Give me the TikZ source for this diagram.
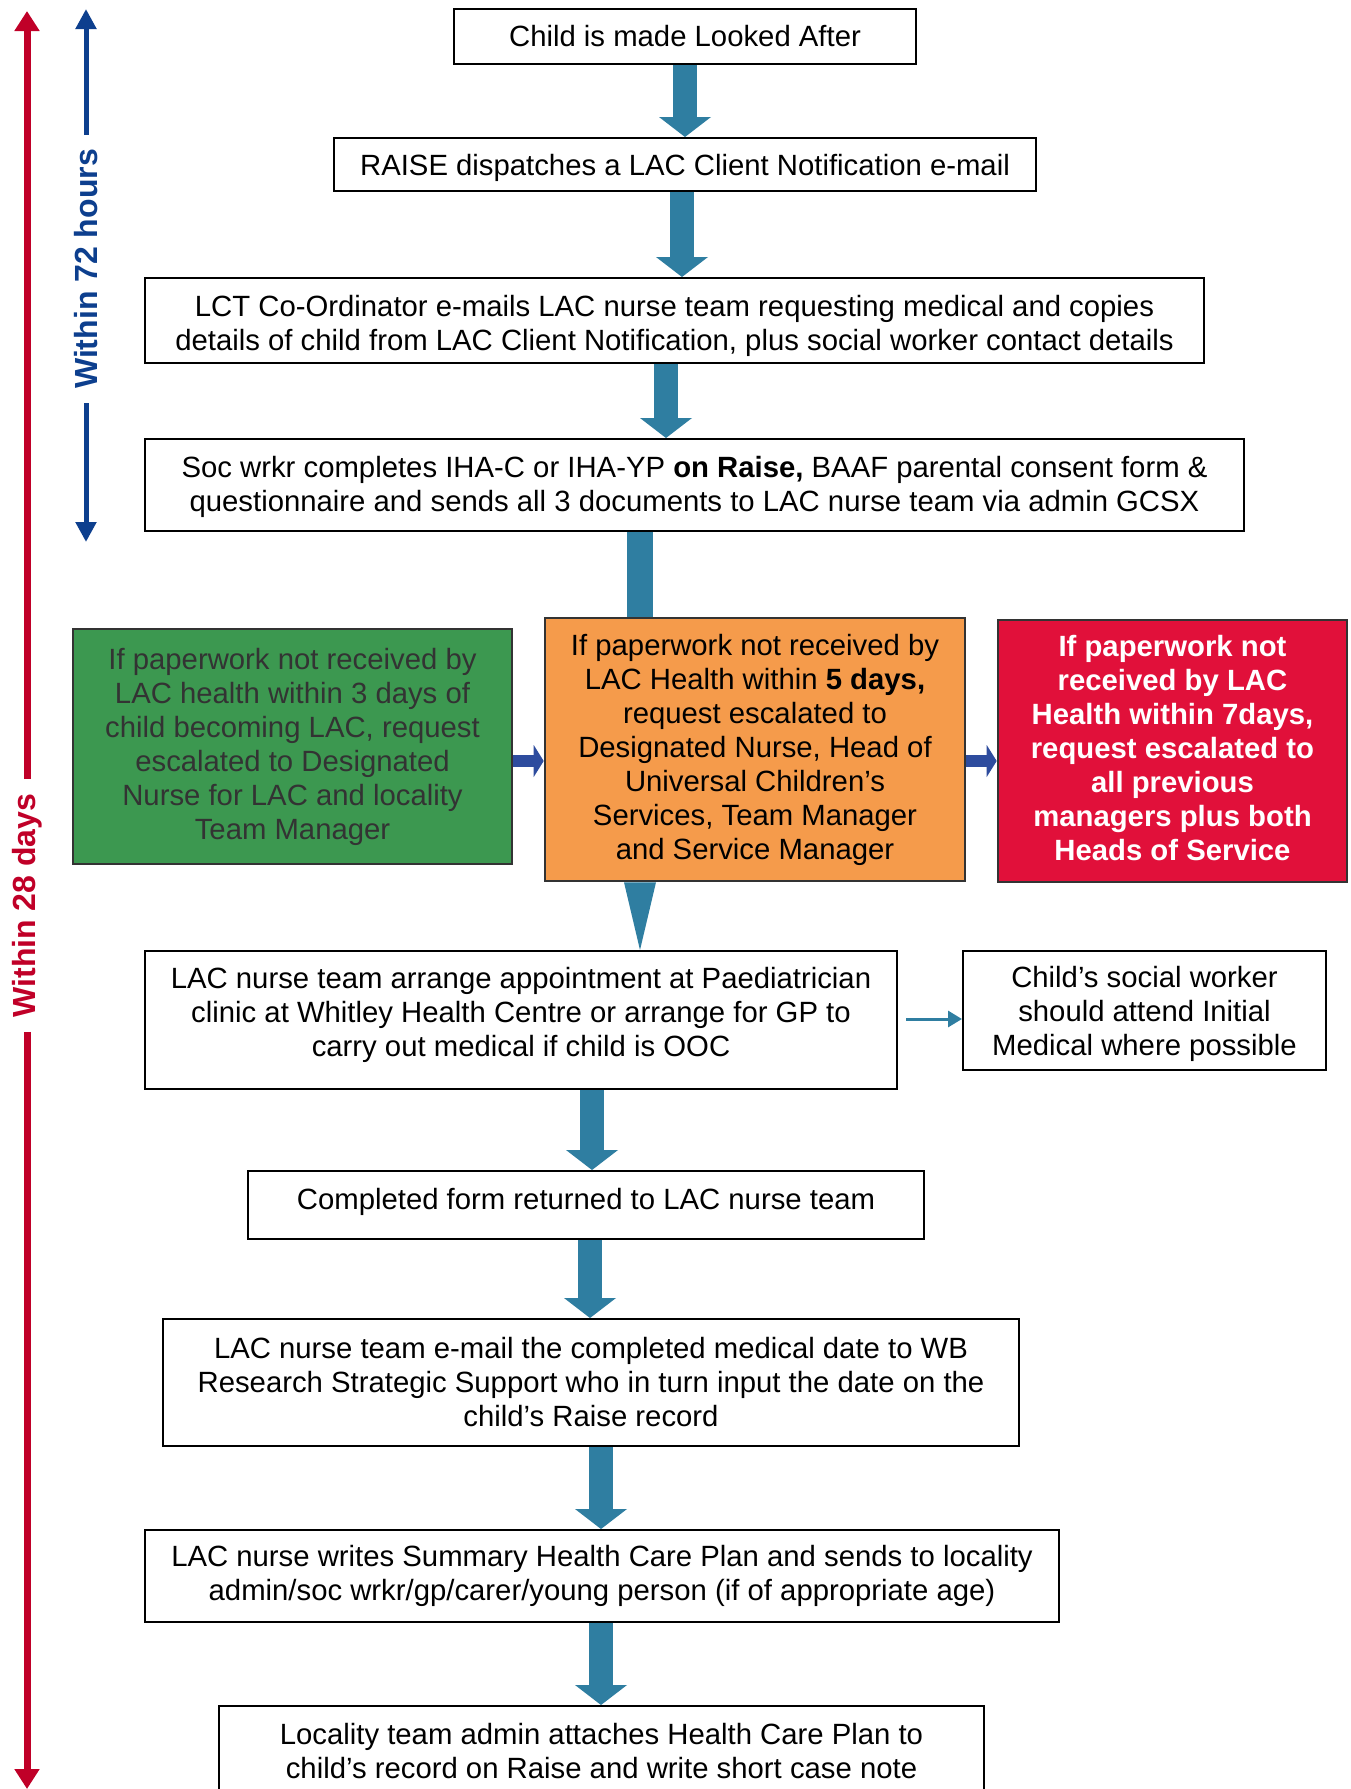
\documentclass[tikz,border=0pt]{standalone}
\usepackage{fontspec}
\setmainfont{Liberation Sans}
\usepackage{tikz}
\usetikzlibrary{arrows.meta}
\usetikzlibrary{positioning}

\definecolor{arrteal}{RGB}{47,126,161}
\definecolor{sideblue}{RGB}{46,76,158}
\definecolor{lineblue}{RGB}{13,63,142}
\definecolor{linered}{RGB}{192,0,40}
\definecolor{escgreen}{RGB}{60,152,80}
\definecolor{escorange}{RGB}{245,155,75}
\definecolor{escred}{RGB}{225,16,58}

\tikzset{
  box/.style={draw, line width=1pt, align=center, inner sep=0pt,
    font=\fontsize{14.65}{17}\selectfont},
  lbl/.style={align=center, inner sep=0pt, font=\fontsize{14.65}{17}\selectfont},
  escbox/.style={box, draw=black!80, line width=1.3pt},
  blockarrow/.style={arrteal, line width=12pt,
    -{Triangle[width=26pt,length=10pt,line width=0pt]}},
  sidearrow/.style={sideblue, line width=6pt,
    -{Triangle[width=16pt,length=5pt,line width=0pt]}},
  timeline/.style={font=\fontsize{16}{19}\selectfont\bfseries, rotate=90,
    inner xsep=7pt, inner ysep=0pt}
}

\begin{document}
\begin{tikzpicture}[x=0.5pt,y=-0.5pt]
  \path[use as bounding box, fill=white] (0,0) rectangle (1350,1789);

  % Hauptkette
  \node[box, minimum width=231pt, minimum height=27.5pt] (look) at (685,36.5)
    {Child is made Looked After};
  \node[box, minimum width=351pt, minimum height=26.5pt,
    label={[lbl, yshift=-1.5pt]center:{RAISE dispatches a LAC Client Notification e-mail}}]
    (raise) at (685,164.5) {};
  \node[box, minimum width=529.5pt, minimum height=42.5pt,
    label={[lbl, yshift=-2.5pt]center:{LCT Co-Ordinator e-mails LAC nurse team requesting medical and copies\\
     details of child from LAC Client Notification, plus social worker contact details}}]
    (coord) at (674.5,320.5) {};
  \node[box, minimum width=549.5pt, minimum height=46pt,
    label={[lbl, yshift=-1pt]center:{Soc wrkr completes IHA-C or IHA-YP \textbf{on Raise,} BAAF parental consent form \&\\
     questionnaire and sends all 3 documents to LAC nurse team via admin GCSX}}]
    (socwrkr) at (694.5,485) {};

  % Eskalation
  \node[escbox, fill=escgreen, text=black!80, minimum width=219.5pt, minimum height=117.5pt]
    (esc3) at (292.5,746.5)
    {If paperwork not received by\\ LAC health within 3 days of\\ child becoming LAC, request\\
     escalated to Designated\\ Nurse for LAC and locality\\ Team Manager};
  \node[escbox, fill=escorange, minimum width=210pt, minimum height=131.5pt]
    (esc5) at (755,749.5)
    {If paperwork not received by\\ LAC Health within \textbf{5 days,}\\ request escalated to\\
     Designated Nurse, Head of\\ Universal Children’s\\ Services, Team Manager\\ and Service Manager};
  \node[escbox, fill=escred, minimum width=174.5pt, minimum height=131pt,
    label={[lbl, text=white, font=\fontsize{14.65}{17}\selectfont\bfseries, yshift=1.5pt]center:{If paperwork not\\
     received by LAC\\ Health within 7days,\\ request escalated to\\
     all previous\\ managers plus both\\ Heads of Service}}]
    (esc7) at (1172.5,751) {};

  \node[box, minimum width=376pt, minimum height=69pt,
    label={[lbl, yshift=2.5pt]center:{LAC nurse team arrange appointment at Paediatrician\\
     clinic at Whitley Health Centre or arrange for GP to\\
     carry out medical if child is OOC}}]
    (appt) at (521,1020) {};
  \node[box, minimum width=181.5pt, minimum height=59.5pt,
    label={[lbl, yshift=-1.5pt]center:{Child’s social worker\\ should attend Initial\\ Medical where possible}}]
    (sw) at (1144.5,1010.5) {};
  \node[box, minimum width=338pt, minimum height=34pt,
    label={[lbl, yshift=1.5pt]center:{Completed form returned to LAC nurse team}}]
    (ret) at (586,1205) {};
  \node[box, minimum width=428pt, minimum height=63.5pt] (mail) at (591,1382.5)
    {LAC nurse team e-mail the completed medical date to WB\\
     Research Strategic Support who in turn input the date on the\\
     child’s Raise record};
  \node[box, minimum width=457pt, minimum height=46pt] (plan) at (602,1576)
    {LAC nurse writes Summary Health Care Plan and sends to locality\\
     admin/soc wrkr/gp/carer/young person (if of appropriate age)};
  \node[box, minimum width=382.5pt, minimum height=45pt] (attach) at (601.5,1751)
    {Locality team admin attaches Health Care Plan to\\
     child’s record on Raise and write short case note};

  % Pfeile
  \foreach \a/\b/\x in {look/raise/685, raise/coord/682, coord/socwrkr/666,
      appt/ret/592, ret/mail/590, mail/plan/601, plan/attach/601}
  {
    \coordinate (ax) at (\x,0);
    \draw[blockarrow] (\a.south -| ax) -- (\b.north -| ax);
  }
  \coordinate (ow) at (640,0);
  \draw[arrteal, line width=13pt] (socwrkr.south -| ow) -- (esc5.north -| ow);
  \fill[arrteal] (esc5.south -| ow) ++(-16,0) -- ++(32,0) -- (appt.north -| ow) -- cycle;

  \coordinate (ey) at (0,761);
  \draw[sidearrow] (esc3.east |- ey) -- (esc5.west |- ey);
  \draw[sidearrow] (esc5.east |- ey) -- (esc7.west |- ey);
  \coordinate (sy) at (0,1019);
  \draw[arrteal, line width=1.5pt, -{Triangle[width=8pt,length=7pt]}, shorten <=4pt]
    (appt.east |- sy) -- (sw.west |- sy);

  % Zeitachsen
  \node[timeline, text=lineblue] (t72) at (86,269) {Within 72 hours};
  \coordinate (t72top) at (86,9);
  \coordinate (t72bot) at (86,542);
  \draw[lineblue, line width=2.5pt, -{Triangle[width=10pt,length=10pt]}] (t72.east) -- (t72top);
  \draw[lineblue, line width=2.5pt, -{Triangle[width=10pt,length=10pt]}] (t72.west) -- (t72bot);

  \node[timeline, text=linered] (t28) at (27,905.5) {Within 28 days};
  \coordinate (t28top) at (27,11);
  \coordinate (t28bot) at (27,1789);
  \draw[linered, line width=3.5pt, -{Triangle[width=12pt,length=10pt]}] (t28.east) -- (t28top);
  \draw[linered, line width=3.5pt, -{Triangle[width=12pt,length=10pt]}] (t28.west) -- (t28bot);
\end{tikzpicture}
\end{document}
